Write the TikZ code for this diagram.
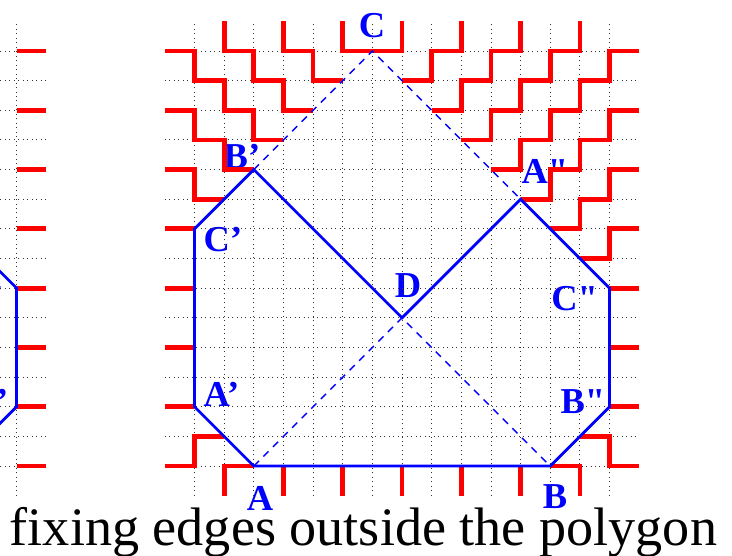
\documentclass[tikz,border=0pt]{standalone}
\usepackage{fontspec}
\setmainfont{Liberation Serif}
\newfontfamily\lblfont{Liberation Serif}[Ligatures=TeXOff]
\begin{document}
\begin{tikzpicture}[
    fix/.style={red,line width=4.6pt},
    poly/.style={blue,line width=2.6pt},
    hull/.style={blue,line width=1.3pt,dash pattern=on 7pt off 6pt},
    gridline/.style={black!80,line width=0.9pt,dash pattern=on 0.9pt off 3.4pt},
    lbl/.style={blue,font=\lblfont\fontsize{35}{40}\selectfont\bfseries,inner sep=0pt,anchor=base}]
  \useasboundingbox (-6.56,-3.03) rectangle (18.13,15.72);
  \clip (-6.56,-3.03) rectangle (18.13,15.72);
  % corners of the polygon
  \coordinate (A) at (2,0);   \coordinate (B) at (12,0);
  \coordinate (C) at (6,14);  \coordinate (D) at (7,5);
  \coordinate (A1) at (0,2);  \coordinate (B1) at (2,10);  \coordinate (C1) at (0,8);
  \coordinate (A2) at (11,9); \coordinate (B2) at (14,2);  \coordinate (C2) at (14,6);
  % labels
  \node[lbl] (lA) at (2.21,-1.51) {A};
  \node[lbl] (lB) at (12.16,-1.44) {B};
  \node[lbl] (lC) at (5.99,14.47) {C};
  \node[lbl] (lD) at (7.2,5.69) {D};
  \node[lbl] (lA1) at (0.91,2.0) {A’};
  \node[lbl] (lB1) at (1.6,10.04) {B’};
  \node[lbl] (lC1) at (0.96,7.25) {C’};
  \node[lbl] (lA2) at (11.82,9.54) {A"};
  \node[lbl] (lB2) at (13.1,1.77) {B"};
  \node[lbl] (lC2) at (12.82,5.25) {C"};
  % dotted grid
  \foreach \x in {0,...,14} \draw[gridline] (\x,-1) -- (\x,15);
  \foreach \y in {0,...,14} \draw[gridline] (-1,\y) -- (15,\y);
  % fixing edges, upper left
  \draw[fix] (-1,14) -| (0,13) -| (1,12) -| (2,11) -- (3,11);
  \draw[fix] (1,15) |- (2,14) |- (3,13) |- (4,12);
  \draw[fix] (3,15) |- (4,14) |- (5,13);
  \draw[fix] (5,15) |- (C) -| (7,15);
  \draw[fix] (-1,12) -| (0,11) -| (1,10) -- (B1);
  \draw[fix] (-1,10) -| (0,9) -- (1,9);
  \foreach \y in {2,4,...,8} \draw[fix] (-1,\y) -- (0,\y);
  % bottom
  \draw[fix] (-1,0) -| (0,1) -- (1,1);
  \draw[fix] (1,-1) |- (A);
  \foreach \x in {3,5,...,11} \draw[fix] (\x,0) -- (\x,-1);
  \draw[fix] (B) -| (13,-1);
  \draw[fix] (13,1) -| (14,0) -- (15,0);
  % right side and upper right
  \foreach \y in {2,4,6} \draw[fix] (14,\y) -- (15,\y);
  \draw[fix] (13,7) -| (14,8) -- (15,8);
  \draw[fix] (12,8) -| (13,9) -| (14,10) -- (15,10);
  \draw[fix] (A2) -| (12,10) -| (13,11) -| (14,12) -- (15,12);
  \draw[fix] (10,10) -| (11,11) -| (12,12) -| (13,13) -| (14,14) -- (15,14);
  \draw[fix] (9,11) -| (10,12) -| (11,13) -| (12,14) -| (13,15);
  \draw[fix] (8,12) -| (9,13) -| (10,14) -| (11,15);
  \draw[fix] (7,13) -| (8,14) -| (9,15);
  % polygon
  \draw[hull] (A) -- (D) -- (B);
  \draw[hull] (B1) -- (C) -- (A2);
  \draw[poly] (A) -- (B) -- (B2) -- (C2) -- (A2) -- (D) -- (B1) -- (C1) -- (A1) -- cycle;
  % right edge of the picture before
  \begin{scope}[xshift=-20cm]
    \coordinate (pB2) at (14,2); \coordinate (pC2) at (14,6);
    \node[lbl] (plC2) at (12.82,5.25) {C"};
    \node[lbl] (plB2) at (13.1,1.77) {B’};
    \draw[gridline] (14,-1) -- (14,15);
    \foreach \y in {0,...,14} \draw[gridline] (13,\y) -- (15,\y);
    \foreach \y in {0,2,...,14} \draw[fix] (14,\y) -- (15,\y);
    \draw[poly] (13,1) -- (pB2) -- (pC2) -- (13,7);
  \end{scope}
  % caption
  \node[font=\fontsize{52}{60}\selectfont,anchor=base] (cap) at (5.7,-2.69) {fixing edges outside the polygon};
\end{tikzpicture}
\end{document}
